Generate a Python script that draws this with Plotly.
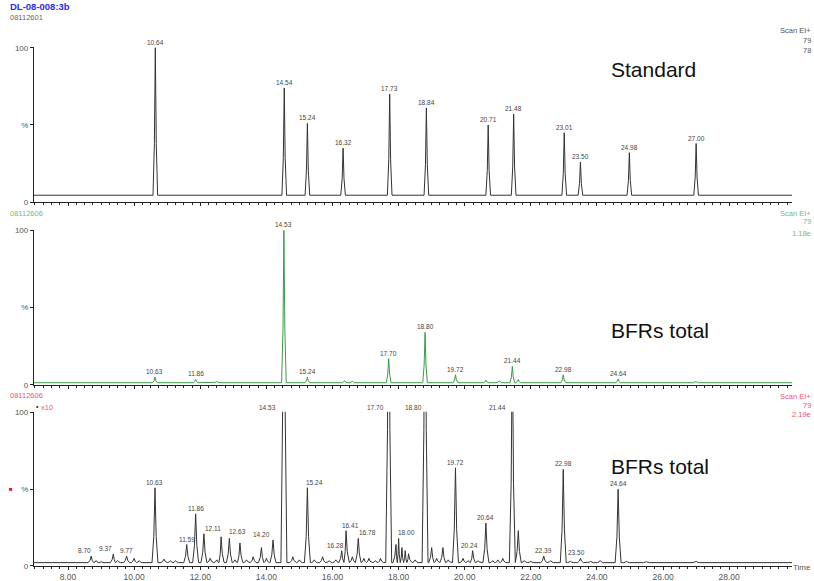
import plotly.graph_objects as go

# ---------------- data ----------------
time_start = 6.97
time_end = 29.9
x_ticks = [8, 10, 12, 14, 16, 18, 20, 22, 24, 26, 28]

# Panel 1: Standard
std_rt = [10.64, 14.54, 15.24, 16.32, 17.73, 18.84, 20.71, 21.48, 23.01, 23.50, 24.98, 27.00]
std_int = [100, 74, 51, 35, 70, 61, 50, 57, 45, 26, 32, 38]
std_base = 4.5
std_labels = ["10.64", "14.54", "15.24", "16.32", "17.73", "18.84", "20.71", "21.48",
              "23.01", "23.50", "24.98", "27.00"]

# Panel 2: BFRs total
bfr_rt = [10.63, 11.86, 12.5, 14.53, 15.24, 16.37, 16.6, 17.70, 18.80, 19.72, 20.64,
          21.05, 21.44, 21.62, 22.98, 24.64, 27.0]
bfr_int = [5, 3.5, 2.2, 100, 5, 2.6, 2.3, 17, 34, 6.5, 3, 2.6, 12, 3.5, 6.5, 3.8, 2.2]
bfr_base = 1.4
bfr_labels = ["10.63", "11.86", "14.53", "15.24", "17.70", "18.80", "19.72", "21.44",
              "22.98", "24.64"]

# Panel 3: BFRs total x10
x10_rt = [8.70, 8.85, 9.0, 9.37, 9.5, 9.77, 10.0, 10.15, 10.63, 10.9, 11.1, 11.25, 11.59,
          11.86, 12.11, 12.3, 12.5, 12.63, 12.88, 13.05, 13.2, 13.4, 13.6, 13.85, 14.0,
          14.20, 14.53, 14.8, 15.0, 15.24, 15.45, 15.7, 15.9, 16.1, 16.28, 16.41, 16.6,
          16.78, 16.95, 17.1, 17.3, 17.45, 17.70, 17.92, 18.00, 18.1, 18.2, 18.3, 18.5,
          18.80, 19.0, 19.15, 19.34, 19.5, 19.72, 19.95, 20.1, 20.24, 20.4, 20.64, 20.85,
          21.0, 21.15, 21.44, 21.62, 21.8, 22.0, 22.39, 22.6, 22.98, 23.2, 23.50, 23.8,
          24.1, 24.64, 24.9, 25.5, 27.0]
x10_int = [6.5, 3.5, 2.8, 7.8, 3.5, 6.5, 5, 3.5, 51, 4.5, 3.5, 3.5, 14,
           34, 21, 5, 4, 19, 18, 4, 15, 4, 6, 12, 5,
           17, 300, 6, 4, 51, 4, 6, 3.5, 4, 10, 23, 6,
           18, 5, 5, 3.5, 5, 250, 14, 18, 12, 10, 8, 4,
           250, 12, 5, 12, 4, 64, 5, 3.5, 10, 3.5, 28, 3.5,
           4, 5, 150, 23, 3.5, 3, 6.5, 3.5, 63, 3, 5, 3,
           3.5, 50, 3, 2.8, 3]
x10_base = 2.2
x10_labels = ["8.70", "9.37", "9.77", "10.63", "11.59", "11.86", "12.11", "12.63", "14.20",
              "14.53", "15.24", "16.28", "16.41", "16.78", "17.70", "18.00", "18.80", "19.72",
              "20.24", "20.64", "21.44", "22.39", "22.98", "23.50", "24.64"]

# ---------------- style ----------------
FONT = "Arial"
W, H = 814, 581
L, R, T, B = 34, 22, 47, 15
PW, PH = W - L - R, H - T - B
domains = [(0.701, 1.0), (0.349, 0.648), (0.0, 0.297)]
x10_label_shift = {"8.70": -7, "9.37": -8, "12.11": 9, "12.63": 16, "14.20": -12,
                   "14.53": -16, "15.24": 7, "16.28": -6, "16.41": 4, "16.78": 9,
                   "17.70": -13, "18.00": 8, "18.80": -12, "20.24": -3, "21.44": -15,
                   "23.50": -4}


def px(x):
    return (x - L) / PW


def py(y):
    return (H - B - y) / PH


def trace_points(rts, hs, base, w):
    xs, ys = [time_start], [base]
    n = len(rts)
    for i, (rt, h) in enumerate(zip(rts, hs)):
        left = rt - w if i == 0 else max(rt - w, (rts[i - 1] + rt) / 2)
        right = rt + w if i == n - 1 else min(rt + w, (rt + rts[i + 1]) / 2)
        xs += [left, rt - 0.4 * (rt - left), rt, rt + 0.4 * (right - rt), right]
        ys += [base, base + 0.35 * (h - base), h, base + 0.35 * (h - base), base]
    xs.append(time_end)
    ys.append(base)
    return xs, ys


fig = go.Figure()
panels = [
    (std_rt, std_int, std_base, 0.07, "#333333", std_labels, {}),
    (bfr_rt, bfr_int, bfr_base, 0.07, "#3a9a48", bfr_labels, {}),
    (x10_rt, x10_int, x10_base, 0.09, "#333333", x10_labels, x10_label_shift),
]

annotations = []
for k, (rts, hs, base, w, col, labels, shifts) in enumerate(panels):
    xs, ys = trace_points(rts, hs, base, w)
    ax = "" if k == 0 else str(k + 1)
    fig.add_trace(go.Scatter(x=xs, y=ys, mode="lines", line=dict(color=col, width=1),
                             xaxis="x" + ax, yaxis="y" + ax, hoverinfo="skip",
                             showlegend=False))
    for lab in labels:
        rt = float(lab)
        idx = min(range(len(rts)), key=lambda j: abs(rts[j] - rt))
        yv = min(hs[idx], 100)
        annotations.append(dict(x=rts[idx], y=yv, xref="x" + ax, yref="y" + ax,
                                text=lab, showarrow=False, yanchor="bottom",
                                yshift=0, xshift=shifts.get(lab, 0),
                                font=dict(family=FONT, size=6.5, color="#444444")))

axis_common = dict(range=[time_start, time_end], showline=True, linecolor="#222222",
                   linewidth=1, ticks="outside", ticklen=3, tickcolor="#222222",
                   tickvals=x_ticks, showgrid=False, zeroline=False, automargin=False,
                   ticklabelstandoff=0,
                   minor=dict(dtick=0.25, ticks="outside", ticklen=2, tickcolor="#222222"),
                   tickfont=dict(family=FONT, size=8.5, color="#555555"), tickformat=".2f")
yaxis_common = dict(range=[0, 100.5], showline=True, linecolor="#222222", linewidth=1.3,
                    ticks="outside", ticklen=3, tickcolor="#222222", automargin=False,
                    tickvals=[0, 50, 100], ticktext=["0", "%", "100"], showgrid=False,
                    zeroline=False, tickfont=dict(family=FONT, size=8, color="#555555"))

layout = dict(width=W, height=H, margin=dict(l=L, r=R, t=T, b=B, autoexpand=False),
              paper_bgcolor="white", plot_bgcolor="white", showlegend=False)
for k in range(3):
    ax = "" if k == 0 else str(k + 1)
    xa = dict(axis_common, anchor="y" + ax, showticklabels=(k == 2))
    if k > 0:
        xa["matches"] = "x"
    layout["xaxis" + ax] = xa
    layout["yaxis" + ax] = dict(yaxis_common, domain=list(domains[k]), anchor="x" + ax)


def txt(x, y, s, size, color, anchor="left"):
    annotations.append(dict(x=px(x), y=py(y), xref="paper", yref="paper", text=s,
                            showarrow=False, xanchor=anchor, yanchor="middle",
                            borderpad=0,
                            font=dict(family=FONT, size=size, color=color)))


txt(9, 7, "<b>DL-08-008:3b</b>", 9.5, "#2b2bf0")
txt(9, 18, "08112601", 7.5, "#666666")
txt(9, 213, "08112606", 7.5, "#7ab87a")
txt(9, 395, "08112606", 7.5, "#f0507a")
txt(35, 406, "•", 7, "#222222")
txt(40, 407, "x10", 7.5, "#f0507a")
txt(8, 489, "■", 6, "#e8102a")

txt(812, 31, "Scan EI+", 7.5, "#555555", "right")
txt(812, 41, "79", 7.5, "#555555", "right")
txt(812, 51, "78", 7.5, "#555555", "right")
txt(812, 213, "Scan EI+", 7.5, "#7ab87a", "right")
txt(812, 222, "79", 7.5, "#7ab87a", "right")
txt(812, 233, "1.18e", 7.5, "#7ab87a", "right")
txt(812, 396, "Scan EI+", 7.5, "#f0507a", "right")
txt(812, 405, "79", 7.5, "#f0507a", "right")
txt(812, 414, "2.19e", 7.5, "#f0507a", "right")
txt(812, 567, "Time", 8, "#555555", "right")

txt(610, 70, "Standard", 21, "#111111")
txt(610, 330, "BFRs total", 21, "#111111")
txt(610, 466, "BFRs total", 21, "#111111")

layout["annotations"] = annotations
fig.update_layout(layout)
fig.write_html("out.html", config={"displayModeBar": False},
               post_script="document.body.style.margin='0';document.body.style.overflow='hidden';")
